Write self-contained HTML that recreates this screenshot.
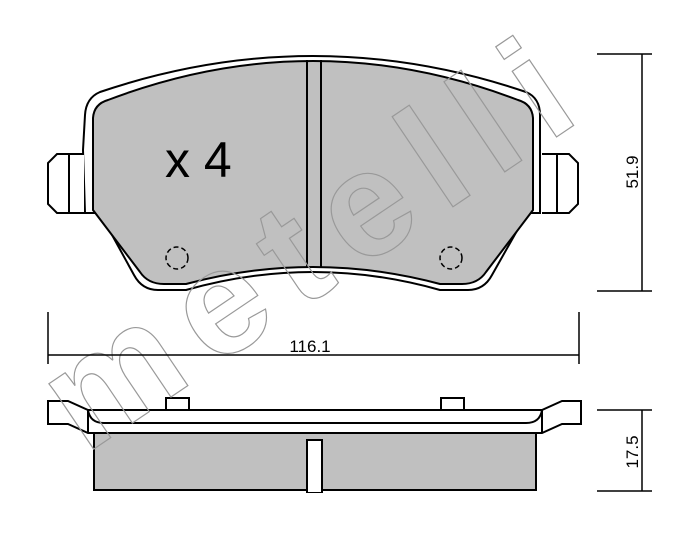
<!DOCTYPE html>
<html><head><meta charset="utf-8"><style>html,body{margin:0;padding:0;background:#fff}svg{display:block}</style></head>
<body>
<svg width="700" height="545" viewBox="0 0 700 545" xmlns="http://www.w3.org/2000/svg">
<rect width="700" height="545" fill="#fff"/>
<!-- top pad -->
<path d="M83,150 L85,115 Q86,98 100,92 Q313,20 526,92 Q540,98 540,115 L540,213 L527,213 L492,275 Q484,290 468,290 L440,290 Q313,254 186,290 L158,290 Q142,290 134,275 L100,213 L85,213 Z" fill="#fff" stroke="#000" stroke-width="2"/>
<path d="M93,150 L93,118 Q94,104 108,100 Q313,22 518,100 Q532,104 533,118 L533,210 L486,272 Q478,284 462,284 L440,284 Q313,250 186,284 L164,284 Q148,284 140,272 L93,210 Z" fill="#c0c0c0" stroke="#000" stroke-width="2"/>
<line x1="307" y1="60" x2="307" y2="268" stroke="#000" stroke-width="2"/>
<line x1="321" y1="60" x2="321" y2="268" stroke="#000" stroke-width="2"/>
<path d="M84,154 L57,154 L48,163 L48,204 L57,213 L84,213" fill="#fff" stroke="#000" stroke-width="2"/>
<line x1="69" y1="154" x2="69" y2="213" stroke="#000" stroke-width="2"/>
<path d="M542,154 L569,154 L578,163 L578,204 L569,213 L542,213" fill="#fff" stroke="#000" stroke-width="2"/>
<line x1="557" y1="154" x2="557" y2="213" stroke="#000" stroke-width="2"/>
<circle cx="177" cy="258" r="11" fill="none" stroke="#000" stroke-width="1.5" stroke-dasharray="5,3"/>
<circle cx="451" cy="258" r="11" fill="none" stroke="#000" stroke-width="1.5" stroke-dasharray="5,3"/>
<text x="165" y="177" font-family="Liberation Sans, sans-serif" font-size="50">x 4</text>
<!-- bottom view -->
<rect x="94" y="433" width="442" height="57" fill="#c0c0c0" stroke="#000" stroke-width="2"/>
<rect x="307" y="440" width="15" height="52" fill="#fff" stroke="#000" stroke-width="2"/>
<rect x="308" y="488" width="13" height="4" fill="#fff"/>
<rect x="166" y="398" width="23" height="12" fill="#fff" stroke="#000" stroke-width="2"/>
<rect x="441" y="398" width="23" height="12" fill="#fff" stroke="#000" stroke-width="2"/>
<path d="M48,401 L68,401 L88,410 L542,410 L562,401 L581,401 L581,424 L562,424 L542,433 L88,433 L68,424 L48,424 Z" fill="#fff" stroke="#000" stroke-width="2"/>
<line x1="88" y1="410" x2="88" y2="433" stroke="#000" stroke-width="2"/>
<line x1="542" y1="410" x2="542" y2="433" stroke="#000" stroke-width="2"/>
<path d="M88,410 Q90,423 104,423 L526,423 Q540,423 542,410" fill="none" stroke="#000" stroke-width="2"/>
<!-- watermark -->
<text x="0" y="0" transform="translate(85,455) rotate(-34)" font-family="Liberation Sans, sans-serif" font-weight="bold" font-size="150" textLength="600" fill="none" stroke="#999" stroke-width="1.2">metelli</text>
<!-- dims -->
<g stroke="#000" stroke-width="1.5">
<line x1="48" y1="312" x2="48" y2="364"/><line x1="579" y1="312" x2="579" y2="364"/><line x1="48" y1="355" x2="579" y2="355"/>
<line x1="597" y1="54" x2="652" y2="54"/><line x1="597" y1="291" x2="652" y2="291"/><line x1="642" y1="54" x2="642" y2="291"/>
<line x1="597" y1="410" x2="652" y2="410"/><line x1="597" y1="491" x2="652" y2="491"/><line x1="642" y1="410" x2="642" y2="491"/>
</g>
<text x="310" y="352" text-anchor="middle" font-family="Liberation Sans, sans-serif" font-size="17">116.1</text>
<text transform="translate(638,172) rotate(-90)" text-anchor="middle" font-family="Liberation Sans, sans-serif" font-size="17">51.9</text>
<text transform="translate(638,452) rotate(-90)" text-anchor="middle" font-family="Liberation Sans, sans-serif" font-size="17">17.5</text>
</svg>
</body></html>
